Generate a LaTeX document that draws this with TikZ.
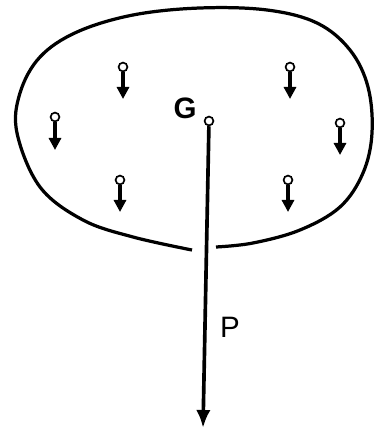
\documentclass[tikz,border=0pt]{standalone}
\usepackage{fontspec}
\setmainfont{Liberation Sans}
\usetikzlibrary{arrows.meta,positioning}

\begin{document}
\begin{tikzpicture}[x=0.025cm,y=-0.025cm]
  \tikzstyle{pt}=[circle,draw,line width=1.2pt,minimum size=0.22cm,inner sep=0pt]
  \tikzstyle{wt}=[-{Triangle[length=0.3cm,width=0.3cm]},line width=2.2pt]
  \useasboundingbox (0,0) rectangle (377,438);

  % outline of the body
  \draw[line width=2.3pt] plot[smooth,tension=0.6] coordinates {
    (192,250) (133,237) (83,220) (40,187) (17,133) (20,93) (40,57)
    (77,32) (133,15) (200,8) (267,10) (317,23) (350,50) (368,87)
    (372,133) (363,173) (340,207) (300,230) (253,243) (216,247)};

  % centre of gravity and resultant
  \node[pt] (g) at (209,121) {};
  \node[font=\bfseries\fontsize{21}{21}\selectfont] (glab) at (185,108) {G};
  \coordinate (pend) at (203,428);
  \draw[-{Latex[length=0.45cm,width=0.36cm]},line width=2.6pt] (g) -- (pend);
  \node[font=\fontsize{21}{21}\selectfont] (plab) at (230,327) {P};

  % small weights
  \node[pt] (w1) at (123,67) {};
  \node[pt] (w2) at (290,67) {};
  \node[pt] (w3) at (55,117) {};
  \node[pt] (w4) at (340,123) {};
  \node[pt] (w5) at (120,180) {};
  \node[pt] (w6) at (288,180) {};
  \coordinate (e1) at (123,99);
  \coordinate (e2) at (290,99);
  \coordinate (e3) at (55,150);
  \coordinate (e4) at (340,155);
  \coordinate (e5) at (120,212);
  \coordinate (e6) at (288,212);
  \draw[wt] (w1) -- (e1);
  \draw[wt] (w2) -- (e2);
  \draw[wt] (w3) -- (e3);
  \draw[wt] (w4) -- (e4);
  \draw[wt] (w5) -- (e5);
  \draw[wt] (w6) -- (e6);
\end{tikzpicture}
\end{document}
